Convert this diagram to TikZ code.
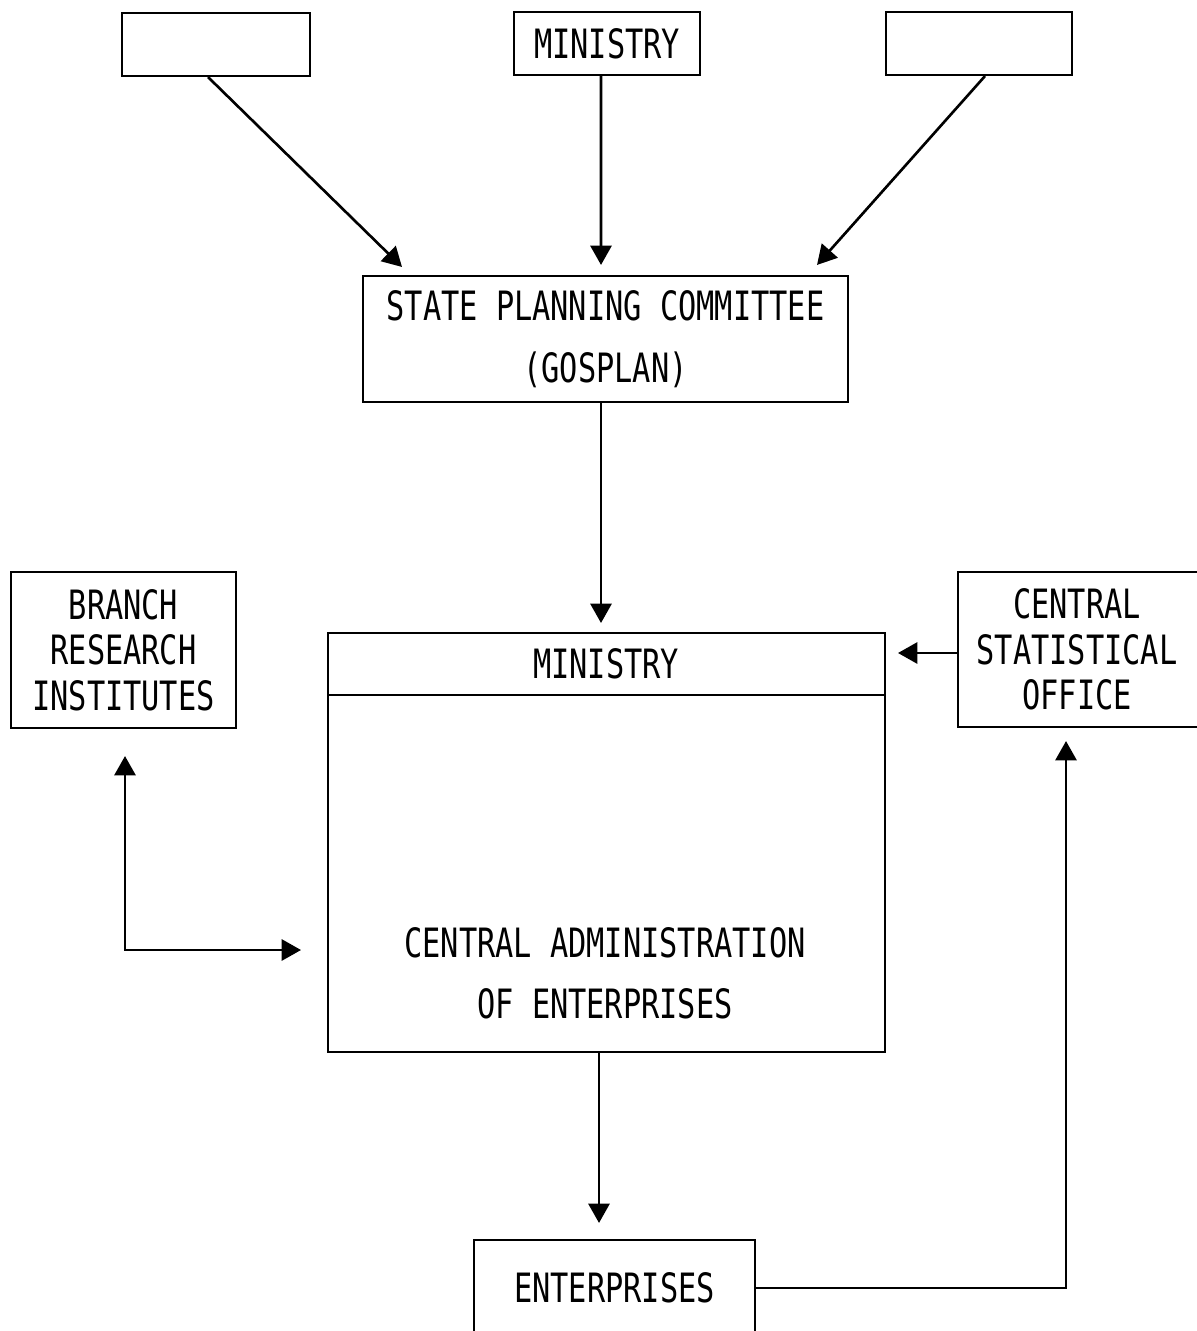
\documentclass[tikz,border=0pt]{standalone}
\usepackage{fontspec}
\setmainfont{DejaVu Sans Mono}[FakeStretch=0.75]
\usetikzlibrary{positioning, calc, arrows.meta}

\tikzset{
    box/.style={draw, line width=1.2pt, inner sep=0pt},
    lbl/.style={font=\fontsize{23}{35}\selectfont, align=center},
    lblsmall/.style={font=\fontsize{23}{26}\selectfont, align=center},
    arr/.style={-{Triangle[width=12pt,length=11pt]}, line width=1.5pt},
    biarr/.style={{Triangle[width=12pt,length=11pt]}-{Triangle[width=12pt,length=11pt]}, line width=1.5pt},
}

\begin{document}
\begin{tikzpicture}[x=0.02cm, y=-0.02cm]
        \useasboundingbox (0,0) rectangle (1196,1331);

        % top row
        \node[box, minimum width=3.76cm, minimum height=1.26cm] (topl) at (216,44.5) {};
        \node[box, lbl, minimum width=3.72cm, minimum height=1.26cm] (topm) at (607,43.5) {MINISTRY};
        \node[box, minimum width=3.72cm, minimum height=1.26cm] (topr) at (979,43.5) {};

        \node[box, lbl, minimum width=9.7cm, minimum height=2.52cm] (gosplan) at (605.5,339) {STATE PLANNING COMMITTEE\\(GOSPLAN)};

        % middle row
        \node[box, lblsmall, minimum width=4.5cm, minimum height=3.12cm] (branch) at (123.5,650) {BRANCH\\RESEARCH\\INSTITUTES};
        \node[box, lblsmall, minimum width=5.2cm, minimum height=3.1cm] (cso) at (1088,649.5) {\hspace*{-0.44cm}CENTRAL\\\hspace*{-0.44cm}STATISTICAL\\\hspace*{-0.44cm}OFFICE};

        \node[box, minimum width=11.14cm, minimum height=8.38cm] (ministry) at (606.5,842.5) {};
        \coordinate (minline) at (0,695);
        \draw[line width=1.2pt] (ministry.west |- minline) -- (ministry.east |- minline);
        \node[lbl] (minhead) at (606,664) {MINISTRY};
        \node[lbl, font=\fontsize{23}{34.6}\selectfont] (admin) at (605,973) {CENTRAL ADMINISTRATION\\OF ENTERPRISES};

        % bottom
        \node[box, lbl, minimum width=5.62cm, minimum height=1.92cm] (ent) at (614.5,1288) {ENTERPRISES};

        % connectors
        \draw[arr] ([xshift=-0.16cm]topl.south) -- ($(gosplan.north)+(-203.5,-8)$);
        \draw[arr, shorten >=0.2cm] ([xshift=-0.12cm]topm.south) -- ([xshift=-0.09cm]gosplan.north);
        \draw[arr] ([xshift=0.12cm]topr.south) -- ($(gosplan.north)+(211.5,-10)$);

        \draw[arr, shorten >=0.18cm] ([xshift=-0.09cm]gosplan.south) -- ([xshift=-0.09cm]gosplan.south |- ministry.north);
        \draw[arr, shorten >=0.24cm] ([yshift=-0.07cm]cso.west) -- ([yshift=-0.07cm]ministry.east |- cso.west);

        \coordinate (bm) at (0,950);
        \draw[biarr, shorten <=0.54cm, shorten >=0.52cm] ([xshift=0.03cm]branch.south) |- (ministry.west |- bm);

        \draw[arr, shorten >=0.32cm] ([xshift=-0.15cm]ministry.south) -- ([xshift=-0.15cm]ministry.south |- ent.north);
        \draw[arr, shorten >=0.26cm] (ent.east) -| ([xshift=-0.44cm]cso.south);
\end{tikzpicture}
\end{document}
